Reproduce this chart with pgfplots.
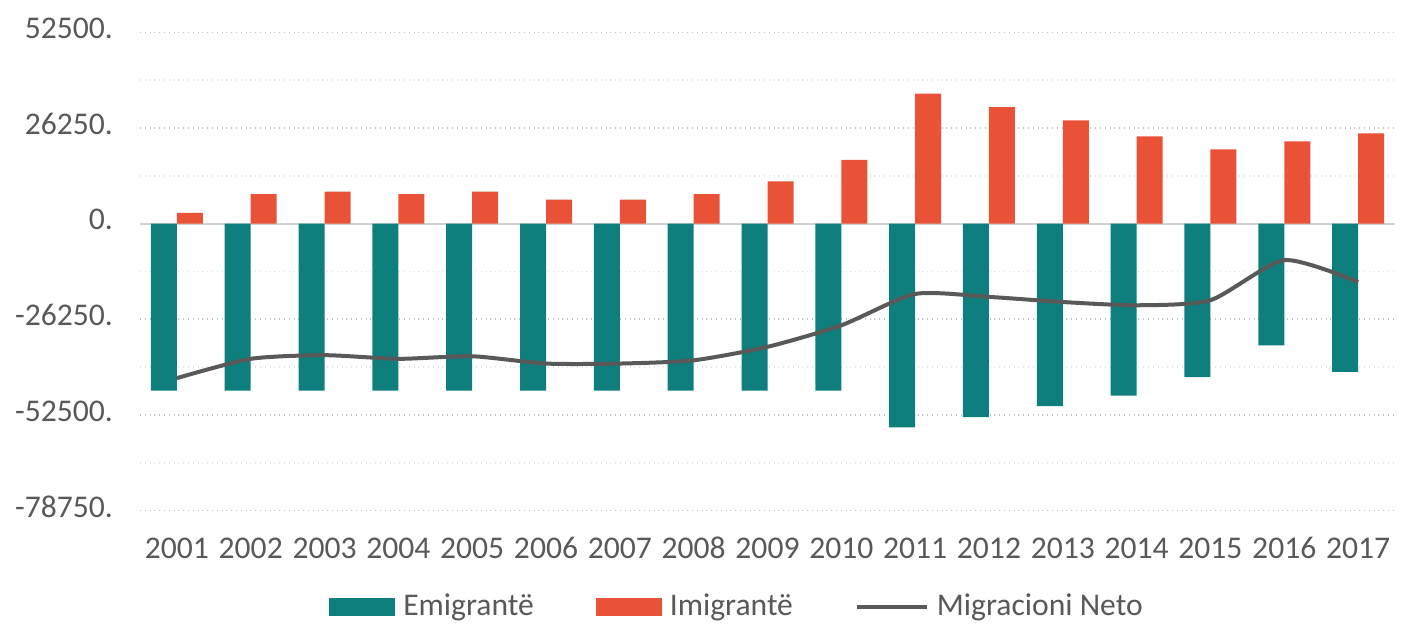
\documentclass[border=0pt]{standalone}
\usepackage{pgfplots}
\pgfplotsset{compat=1.18}
\usepackage{fontspec}
\setmainfont{Carlito}
\definecolor{emi}{HTML}{0E7F7D}
\definecolor{imi}{HTML}{E95237}
\definecolor{neto}{HTML}{595959}
\definecolor{txt}{HTML}{595959}
\begin{document}
\begin{tikzpicture}
\begin{axis}[
  scale only axis,
  width=627.5pt, height=239pt,
  xmin=2000.5, xmax=2017.5,
  ymin=-78750, ymax=52500,
  scaled y ticks=false, scaled x ticks=false,
  xtick={2001,2002,2003,2004,2005,2006,2007,2008,2009,2010,2011,2012,2013,2014,2015,2016,2017},
  xticklabels={2001,2002,2003,2004,2005,2006,2007,2008,2009,2010,2011,2012,2013,2014,2015,2016,2017},
  ytick={-78750,-52500,-26250,0,26250,52500},
  yticklabels={-78750.,-52500.,-26250.,0.,26250.,52500.},
  minor y tick num=1,
  ymajorgrids, yminorgrids,
  major grid style={dotted, line width=0.9pt, color=black!24},
  minor grid style={dotted, line width=0.9pt, color=black!11},
  extra y ticks={0}, extra y tick labels={},
  extra y tick style={grid=major, major grid style={solid, line width=1pt, color=black!18}},
  axis line style={draw=none},
  major tick length=0pt, minor tick length=0pt,
  tick label style={font=\fontsize{15.8}{19}\selectfont, text=txt},
  xticklabel style={anchor=base, yshift=-24.2pt},
  yticklabel style={anchor=east, xshift=-10pt, yshift=2pt},
  legend style={at={(0.4765,-0.2008)}, anchor=center, draw=none,
    font=\fontsize{15.8}{19}\selectfont, text=txt},
  legend columns=3,
  legend cell align=left,
  /tikz/every even column/.append style={column sep=29pt},
]
\addplot[ybar, bar width=13pt, bar shift=-6.5pt, fill=emi, draw=none,
  legend image code/.code={\fill[emi] (0pt,-4.5pt) rectangle (33pt,4.5pt); \path (35pt,0pt);}]
  coordinates {
  (2001,-45800) (2002,-45800) (2003,-45800) (2004,-45800) (2005,-45800)
  (2006,-45800) (2007,-45800) (2008,-45800) (2009,-45800) (2010,-45800)
  (2011,-55900) (2012,-53100) (2013,-50100) (2014,-47200) (2015,-42100)
  (2016,-33400) (2017,-40700)
  };
\addlegendentry{Emigrantë}
\addplot[ybar, bar width=13pt, bar shift=6.5pt, fill=imi, draw=none,
  legend image code/.code={\fill[imi] (0pt,-4.5pt) rectangle (33pt,4.5pt); \path (35pt,0pt);}]
  coordinates {
  (2001,3000) (2002,8100) (2003,8800) (2004,8100) (2005,8800)
  (2006,6600) (2007,6600) (2008,8100) (2009,11600) (2010,17500)
  (2011,35700) (2012,32000) (2013,28400) (2014,24000) (2015,20400)
  (2016,22600) (2017,24800)
  };
\addlegendentry{Imigrantë}
\addplot[smooth, tension=0.4, color=neto, line width=2pt, mark=none,
  legend image code/.code={\draw[neto, line width=2pt] (0pt,0pt) -- (35pt,0pt); \path (37pt,0pt);}]
  coordinates {
  (2001,-42400) (2002,-37100) (2003,-36100) (2004,-37100) (2005,-36400)
  (2006,-38400) (2007,-38400) (2008,-37500) (2009,-33800) (2010,-27900)
  (2011,-19300) (2012,-20100) (2013,-21500) (2014,-22400) (2015,-21000)
  (2016,-10000) (2017,-16000)
  };
\addlegendentry{Migracioni Neto}
\coordinate (sw) at (rel axis cs:0,0);
\coordinate (ne) at (rel axis cs:1,1);
\end{axis}
\pgfresetboundingbox
\path ([xshift=-70pt,yshift=-57.15pt]sw) rectangle ([xshift=4pt,yshift=16.25pt]ne);
\end{tikzpicture}
\end{document}
